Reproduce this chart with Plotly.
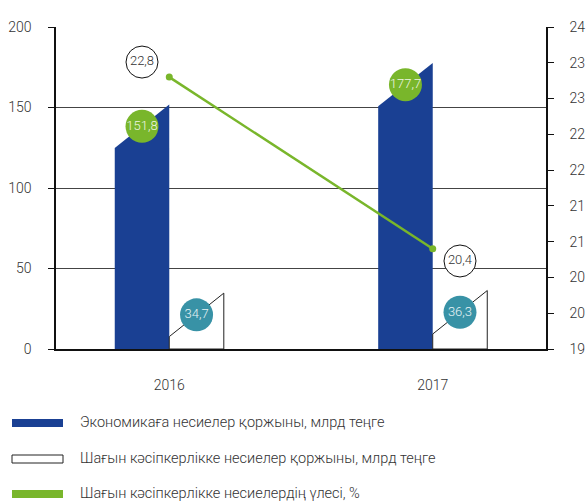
import plotly.graph_objects as go

# Данные
years = ["2016", "2017"]
economy_loans = [151.8, 177.7]   # Экономикаға несиелер қоржыны, млрд теңге
sme_loans = [34.7, 36.3]         # Шағын кәсіпкерлікке несиелер қоржыны, млрд теңге
sme_share = [22.8, 20.4]         # Шағын кәсіпкерлікке несиелердің үлесі, %

left_ticks = [0, 50, 100, 150, 200]
right_ticks = [19, 19.5, 20, 20.5, 21, 21.5, 22, 22.5, 23, 23.5]
right_ticktext = ["19", "20", "20", "21", "21", "22", "22", "23", "23", "24"]

legend_labels = [
    "Экономикаға несиелер қоржыны, млрд теңге",
    "Шағын кәсіпкерлікке несиелер қоржыны, млрд теңге",
    "Шағын кәсіпкерлікке несиелердің үлесі, %",
]

BLUE = "#1a4093"
GREEN = "#79b62b"
TEAL = "#3892a6"
FONT = "Roboto"

W = 0.207      # ширина столбца (в единицах оси x)
SLANT = 27     # скос верхней грани (в единицах левой оси)

# отступ body убираем в post_script, поэтому график во всё окно
FW, FH = 587, 504
L, T, PW, PH = 56, 27, 490, 322
R, B = FW - L - PW, FH - T - PH


def px(x, y):
    # координаты окна -> доли области построения
    return (x - L) / PW, (T + PH - y) / PH


def fmt(v):
    return f"{v:.1f}".replace(".", ",")


fig = go.Figure()

for i, (vb, vw) in enumerate(zip(economy_loans, sme_loans)):
    fig.add_trace(go.Scatter(
        x=[i - W, i - W, i, i, i - W], y=[0, vb - SLANT, vb, 0, 0],
        fill="toself", fillcolor=BLUE, mode="lines",
        line=dict(width=0, color=BLUE), hoverinfo="skip"))
    fig.add_trace(go.Scatter(
        x=[i, i, i + W, i + W, i], y=[0, vw - SLANT, vw, 0, 0],
        fill="toself", fillcolor="white", mode="lines",
        line=dict(width=1, color="#222"), hoverinfo="skip"))

xs = list(range(len(years)))

fig.add_trace(go.Scatter(
    x=xs, y=sme_share, yaxis="y2", mode="lines+markers",
    line=dict(color=GREEN, width=2.5), marker=dict(size=7, color=GREEN)))

# подписи в кружках
fig.add_trace(go.Scatter(
    x=[i - W / 2 for i in xs], y=[v - SLANT / 2 for v in economy_loans],
    mode="markers+text", text=[fmt(v) for v in economy_loans],
    marker=dict(size=33, color=GREEN, line=dict(width=0)),
    textfont=dict(family=FONT, size=13, color="#eef5e0"), textposition="middle center"))
fig.add_trace(go.Scatter(
    x=[i + W / 2 for i in xs], y=[v - SLANT / 2 for v in sme_loans],
    mode="markers+text", text=[fmt(v) for v in sme_loans],
    marker=dict(size=33, color=TEAL, line=dict(width=0)),
    textfont=dict(family=FONT, size=13, color="#e6f2f5"), textposition="middle center"))
fig.add_trace(go.Scatter(
    x=[0 - W / 2, 1 + W / 2], y=[sme_share[0] + 0.21, sme_share[1] - 0.17], yaxis="y2",
    mode="markers+text", text=[fmt(v) for v in sme_share],
    marker=dict(size=32, color="white", line=dict(width=1, color="#111")),
    textfont=dict(family=FONT, size=13, color="#333"), textposition="middle center"))

# легенда вручную
legend_colors = [(BLUE, BLUE), ("white", "#222"), (GREEN, GREEN)]
rows_y = [423, 459, 494]
for (fc, lc), yy, label in zip(legend_colors, rows_y, legend_labels):
    x0, y0 = px(12, yy + 4)
    x1, y1 = px(63, yy - 4)
    fig.add_shape(type="rect", xref="paper", yref="paper", x0=x0, x1=x1, y0=y0, y1=y1,
                  fillcolor=fc, line=dict(color=lc, width=1 if fc == "white" else 0))
    tx, ty = px(78, yy)
    fig.add_annotation(xref="paper", yref="paper", x=tx, y=ty, text=label, showarrow=False,
                       xanchor="left", yanchor="middle",
                       font=dict(family=FONT, size=14.5, color="#333", weight=300))

fig.update_layout(
    width=FW, height=FH, margin=dict(l=L, r=R, t=T, b=B, autoexpand=False),
    paper_bgcolor="white", plot_bgcolor="white", showlegend=False,
    font=dict(family=FONT, size=14, color="#333", weight=300),
    xaxis=dict(range=[-0.43, 1.43], tickvals=xs, ticktext=years, showgrid=False,
               zeroline=False, showline=True, linecolor="#111", linewidth=1.5,
               ticks="", ticklabelstandoff=22, automargin=False),
    yaxis=dict(range=[0, 200], tickvals=left_ticks, showgrid=True, gridcolor="#444",
               gridwidth=1, zeroline=False, showline=True, linecolor="#111", linewidth=1.5,
               ticks="outside", ticklen=6, tickcolor="#111", ticklabelstandoff=14,
               automargin=False),
    yaxis2=dict(range=[19, 23.5], overlaying="y", side="right", tickvals=right_ticks,
                ticktext=right_ticktext, showgrid=False, zeroline=False, showline=True,
                linecolor="#111", linewidth=1.5, ticks="outside", ticklen=6,
                tickcolor="#111", ticklabelstandoff=13, automargin=False,
                ticklabeloverflow="allow"),
)

fig.write_html(
    "out.html",
    config={"displayModeBar": False},
    post_script="document.body.style.margin='0';document.body.style.overflow='hidden';",
)
